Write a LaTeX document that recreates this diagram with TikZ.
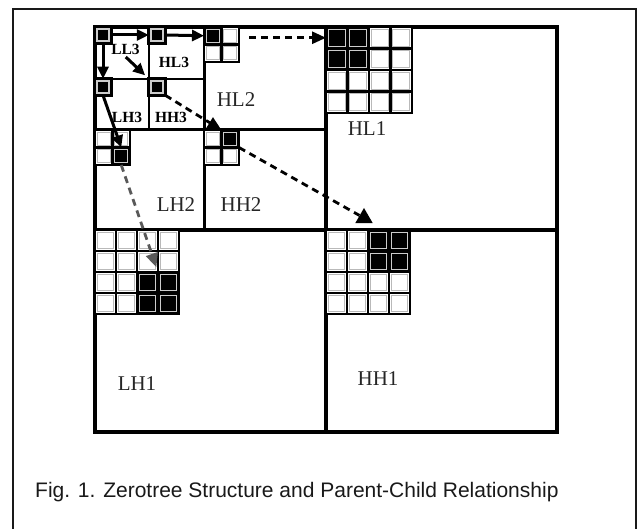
\documentclass[tikz,border=0pt]{standalone}
\usepackage{fontspec}
\usetikzlibrary{arrows.meta,shapes.geometric}
\newfontfamily\tmsfont{Liberation Serif}
\newfontfamily\arlfont{Liberation Sans}

\tikzset{
  lvone/.style={line width=3.2pt, line cap=rect},
  lvtwo/.style={line width=3.0pt, line cap=rect},
  lvthree/.style={line width=2.6pt, line cap=rect},
  wcell/.style={rectangle, inner sep=0pt, outer sep=0pt, minimum size=#1,
    draw=black, line width=2.8pt, fill=white,
    path picture={\draw[gray!55, line width=1pt]
      ([shift={(2.1pt,-2.1pt)}]path picture bounding box.north west) rectangle
      ([shift={(-2.1pt,2.1pt)}]path picture bounding box.south east);}},
  bcell/.style={rectangle, inner sep=0pt, outer sep=0pt, minimum size=#1,
    draw=black, line width=2.8pt, fill=black,
    path picture={\draw[gray!40, line width=1.2pt]
      ([shift={(2.3pt,-2.3pt)}]path picture bounding box.north west) rectangle
      ([shift={(-2.3pt,2.3pt)}]path picture bounding box.south east);}},
  biglbl/.style={text=black!85, inner sep=0pt, font=\tmsfont\fontsize{21}{21}\selectfont},
  smalllbl/.style={text=black, inner sep=0pt, font=\tmsfont\bfseries\fontsize{15.5}{15.5}\selectfont},
  solidarrow/.style={line width=3pt, -{Triangle[length=12pt,width=11pt]}},
  dasharrow/.style={line width=2.8pt, dash pattern=on 7pt off 5pt, -{Triangle[length=14pt,width=12pt]}},
}

% n x n block of coefficient cells; #6 is 1 for the filled (significant) cells
\newcommand\cellgrid[6]{%
  \foreach \c in {1,...,#5}{\foreach \r in {1,...,#5}{%
    \pgfmathtruncatemacro\blk{#6}%
    \ifnum\blk=1
      \node[bcell=#4] (#1-\c\r) at ({#2+(\c-0.5)*#4},{#3+(\r-0.5)*#4}) {};
    \else
      \node[wcell=#4] (#1-\c\r) at ({#2+(\c-0.5)*#4},{#3+(\r-0.5)*#4}) {};
    \fi}}}

\begin{document}
\begin{tikzpicture}[x=1pt,y=-1pt]
\useasboundingbox (0,0) rectangle (644,529);

% outer frame
\draw[line width=1.5pt, black!90] (13,529) -- (13,9) -- (636,9) -- (636,529);

% subband boundaries: level 1
\draw[lvone] (95,27) rectangle (557,432);
\draw[lvone] (326,27) -- (326,432);
\draw[lvone] (95,230) -- (557,230);
% level 2
\draw[lvtwo] (204,27) -- (204,230);
\draw[lvtwo] (95,130) -- (326,130);
% level 3
\draw[lvthree] (149,27) -- (149,130);
\draw[lvthree] (95,79) -- (204,79);

% level 3 coefficients
\node[bcell=16.5] (ll3c) at (103,35) {};
\node[bcell=16.5] (hl3c) at (157,35) {};
\node[bcell=16.5] (lh3c) at (103,87) {};
\node[bcell=16.5] (hh3c) at (157,87) {};

% level 2 children
\cellgrid{hl2}{204}{27}{17.5}{2}{and(\c==1,\r==1)}
\cellgrid{lh2}{95}{130}{17.5}{2}{and(\c==2,\r==2)}
\cellgrid{hh2}{204}{130}{17.5}{2}{and(\c==2,\r==1)}

% level 1 children
\cellgrid{hl1}{326}{27}{21.5}{4}{and(\c<3,\r<3)}
\cellgrid{lh1}{95}{230}{21}{4}{and(\c>2,\r>2)}
\cellgrid{hh1}{326}{230}{21}{4}{and(\c>2,\r<3)}

% subband labels
\node[smalllbl] (t-ll3) at (125.5,49) {LL3};
\node[smalllbl] (t-hl3) at (174,62) {HL3};
\node[smalllbl] (t-lh3) at (127,117) {LH3};
\node[smalllbl] (t-hh3) at (171,117) {HH3};
\node[biglbl] (t-hl2) at (236,100) {HL2};
\node[biglbl] (t-lh2) at (176,205) {LH2};
\node[biglbl] (t-hh2) at (241,205) {HH2};
\node[biglbl] (t-hl1) at (367,129) {HL1};
\node[biglbl] (t-lh1) at (137,384) {LH1};
\node[biglbl] (t-hh1) at (378,379) {HH1};

% end marker of the HH2 -> HH1 link
\node[regular polygon, regular polygon sides=3, fill=black, inner sep=0pt,
      minimum size=20pt] (tri) at (364,218) {};

% parent-child links
\draw[solidarrow] (ll3c.east) -- (hl3c.west);
\draw[solidarrow] (hl3c.east) -- (hl2-11.west);
\draw[solidarrow] (ll3c.south) -- (lh3c.north);
\draw[solidarrow, shorten <=20pt, shorten >=5pt] (ll3c.south east) -- (hh3c.north west);
\draw[solidarrow] (lh3c.south) -- (lh2-21.south);
\draw[dasharrow, shorten <=10pt] (hl2-21.east |- hl1-11.west) -- (hl1-11.west);
\draw[dasharrow] (hh3c.south east) -- (hh2-21.north west);
\draw[dasharrow, black!65, shorten >=5pt] (lh2-22.south) -- (lh1-32.south east);
\draw[line width=2.8pt, dash pattern=on 7pt off 5pt] (hh2-21.south east) -- (tri);

% caption
\node[anchor=base west, inner sep=0pt, text=black!90,
      font=\arlfont\fontsize{21}{21}\selectfont] (caption) at (35,497)
  {Fig. 1. Zerotree Structure and Parent-Child Relationship};
\end{tikzpicture}
\end{document}
